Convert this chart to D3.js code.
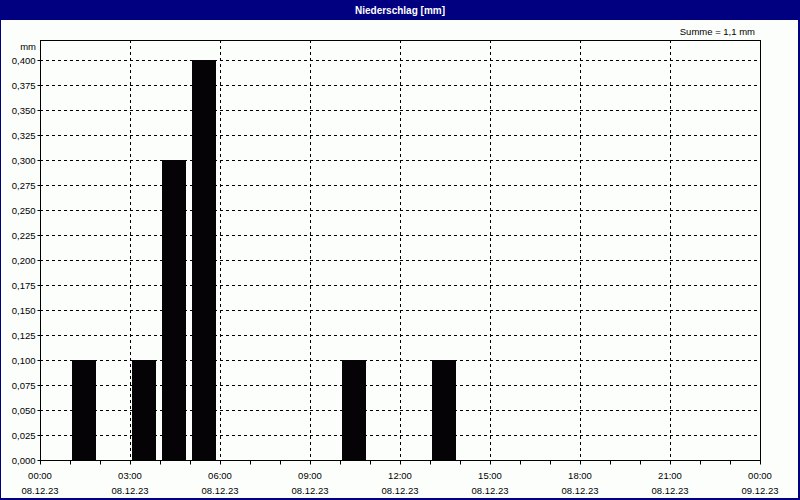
<!DOCTYPE html>
<html>
<head>
<meta charset="utf-8">
<script src="https://cdn.jsdelivr.net/npm/d3@7"></script>
<style>
  body { margin: 0; background: #fff; }
  svg { display: block; font-family: "Liberation Sans", Arial, sans-serif; }
</style>
</head>
<body>
<svg width="800" height="500"></svg>
<script>
// hourly precipitation, start hour of each bar
var hours = [1, 3, 4, 5, 10, 13];
var values = [0.1, 0.1, 0.3, 0.4, 0.1, 0.1];
var yTicks = d3.range(0, 0.4001, 0.025);
var xTickHours = [0, 3, 6, 9, 12, 15, 18, 21, 24];
var xTickDates = ['08.12.23', '08.12.23', '08.12.23', '08.12.23', '08.12.23', '08.12.23', '08.12.23', '08.12.23', '09.12.23'];

var svg = d3.select('svg');

// frame + title bar
svg.append('rect').attr('x', 0).attr('y', 0).attr('width', 800).attr('height', 500).attr('fill', '#000080');
svg.append('rect').attr('x', 1).attr('y', 20).attr('width', 797).attr('height', 478).attr('fill', '#fcfefc');
svg.append('text')
    .attr('x', 400).attr('y', 14)
    .attr('text-anchor', 'middle')
    .attr('fill', '#fff')
    .style('font-size', '10px')
    .style('font-weight', 'bold')
    .text('Niederschlag [mm]');

var plotL = 40, plotR = 760, plotT = 40, plotB = 460;

var x = d3.scaleLinear().domain([0, 24]).range([plotL, plotR]);
var y = d3.scaleLinear().domain([0, 0.42]).range([plotB, plotT]);

var fmt = function(v) { return d3.format('.3f')(v).replace('.', ','); };

// horizontal grid
svg.append('g').selectAll('line')
    .data(yTicks.slice(1))
    .enter().append('line')
    .attr('x1', plotL).attr('x2', plotR)
    .attr('y1', d => Math.round(y(d)) + 0.5).attr('y2', d => Math.round(y(d)) + 0.5)
    .attr('stroke', '#000').attr('stroke-dasharray', '3,3');

// vertical grid
svg.append('g').selectAll('line')
    .data(xTickHours.slice(1, -1))
    .enter().append('line')
    .attr('x1', d => Math.round(x(d)) + 0.5).attr('x2', d => Math.round(x(d)) + 0.5)
    .attr('y1', plotT).attr('y2', plotB)
    .attr('stroke', '#000').attr('stroke-dasharray', '3,3');

// bars
var bw = x(1) - x(0);
svg.append('g').selectAll('rect')
    .data(hours)
    .enter().append('rect')
    .attr('x', d => x(d) + bw * 0.1 - 1)
    .attr('width', bw * 0.8)
    .attr('y', (d, i) => y(values[i]))
    .attr('height', (d, i) => plotB - y(values[i]))
    .attr('fill', '#050305');

// plot border
svg.append('rect')
    .attr('x', plotL + 0.5).attr('y', plotT + 0.5)
    .attr('width', plotR - plotL).attr('height', plotB - plotT)
    .attr('fill', 'none').attr('stroke', '#000');

// y axis
var yAxis = d3.axisLeft(y).tickValues(yTicks).tickFormat(fmt).tickSize(3).tickPadding(2);
var gy = svg.append('g').attr('transform', 'translate(' + (plotL + 0.5) + ',0)').call(yAxis);
gy.select('.domain').remove();
gy.selectAll('text').style('font-size', '9.5px').attr('fill', '#000').style('font-family', '"Liberation Sans", Arial, sans-serif');

svg.append('text').attr('x', 36).attr('y', 50).attr('text-anchor', 'end')
    .style('font-size', '9.5px').text('mm');

// x axis: hourly minor ticks, labels every 3 h
var xAxis = d3.axisBottom(x).tickValues(d3.range(0, 25)).tickSize(4).tickFormat('');
var gx = svg.append('g').attr('transform', 'translate(0,' + (plotB + 0.5) + ')').call(xAxis);
gx.select('.domain').remove();

var lbl = svg.append('g').selectAll('g')
    .data(xTickHours)
    .enter().append('g')
    .attr('transform', d => 'translate(' + x(d) + ',0)');
lbl.append('text')
    .attr('y', 479).attr('text-anchor', 'middle')
    .style('font-size', '9.5px')
    .text(d => d3.format('02')(d % 24) + ':00');
lbl.append('text')
    .attr('y', 494).attr('text-anchor', 'middle')
    .style('font-size', '9.5px')
    .text((d, i) => xTickDates[i]);

svg.append('text').attr('x', 755).attr('y', 35).attr('text-anchor', 'end')
    .style('font-size', '9.5px').text('Summe = 1,1 mm');
</script>
</body>
</html>
